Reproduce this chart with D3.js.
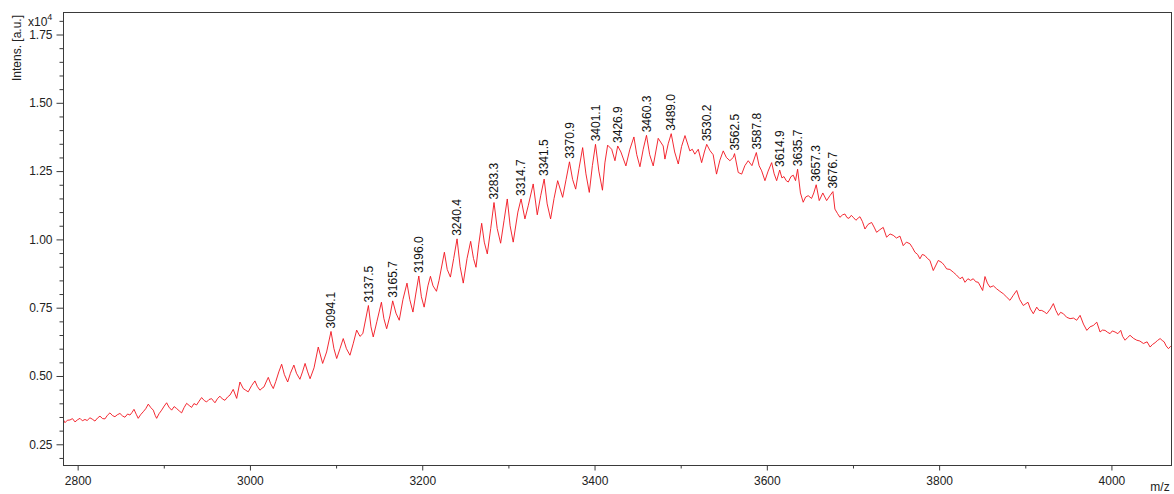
<!DOCTYPE html>
<html>
<head>
<meta charset="utf-8">
<script src="https://cdn.jsdelivr.net/npm/d3@7"></script>
<style>
  html, body { margin: 0; padding: 0; background: #fff; }
  svg { display: block; }
  text { font-family: "Liberation Sans", Arial, Helvetica, sans-serif; }
</style>
</head>
<body>
<svg id="chart" width="1174" height="494"></svg>
<script>
// m/z axis of the spectrum
const mz = [
  2783, 2785.3, 2788, 2791.1, 2794, 2796.9, 2800, 2802.7, 2805.5, 2808.5, 2811, 2814.3, 2817, 2820.1, 2823, 2825.9,
  2829, 2831.7, 2834.5, 2837.5, 2840.5, 2843.3, 2846, 2849.1, 2852, 2854.9, 2858, 2860.7, 2863, 2865.4, 2868, 2870.3,
  2873, 2876.1, 2879, 2882, 2885, 2887.8, 2890, 2891.7, 2894.5, 2897.5, 2900.5, 2903.3, 2906, 2909.1, 2912, 2914.9,
  2918, 2920.7, 2923.5, 2926.5, 2929.5, 2932.3, 2935, 2938.1, 2941, 2943.9, 2947, 2949.7, 2952.5, 2955.5, 2957.5, 2959.4,
  2962.5, 2965.2, 2968, 2971, 2974, 2976.8, 2980.6, 2984.6, 2988.4, 2992.2, 2995, 2998, 3002, 3005.8, 3008.5, 3011.6,
  3014, 3016.3, 3018.8, 3021.3, 3024, 3027.1, 3030, 3033.5, 3036.8, 3040, 3043.8, 3047, 3051, 3054, 3058, 3061,
  3064, 3067, 3069.8, 3074.4, 3079.3, 3084.4, 3089, 3094.1, 3097.5, 3100.7, 3104.5, 3108.3, 3112, 3116.1, 3120, 3123.9,
  3127.7, 3131, 3137.5, 3140.5, 3143.1, 3147.4, 3152.6, 3155.5, 3158.7, 3162.5, 3165.7, 3169.5, 3173.3, 3177.6, 3182.3, 3185.5,
  3189.2, 3192.5, 3196.0, 3199, 3202.2, 3206.6, 3209.5, 3212.5, 3216.5, 3219.5, 3225.7, 3229, 3232.7, 3236.5, 3240.4, 3244,
  3247.6, 3252, 3256.2, 3259.5, 3262.4, 3265.5, 3269, 3272, 3275.5, 3279.5, 3283.3, 3287, 3291, 3295, 3298.7, 3302,
  3305.6, 3311, 3314.7, 3319.2, 3323, 3328.8, 3333.5, 3337.5, 3341.5, 3345, 3349, 3353, 3357.2, 3363, 3367, 3370.9,
  3374.5, 3378.1, 3382, 3386.2, 3390, 3393.9, 3397.5, 3401.1, 3405, 3409.2, 3412, 3415.2, 3419.9, 3423.7, 3426.9, 3430.6,
  3436.4, 3441, 3445.7, 3449, 3452.7, 3456.5, 3460.3, 3464, 3468.1, 3473.9, 3479.7, 3481.7, 3485.5, 3489.0, 3493, 3497.2,
  3501, 3505, 3510.6, 3513.5, 3516.4, 3520.4, 3524.3, 3527.5, 3530.2, 3534, 3537.7, 3541.6, 3545.5, 3549.4, 3553, 3557.1,
  3561, 3562.5, 3566.8, 3570.8, 3574.5, 3578.4, 3582.7, 3587.8, 3591, 3594, 3597.8, 3601.5, 3605.6, 3608.5, 3611.4, 3614.9,
  3617.5, 3619.9, 3622.5, 3624.9, 3628, 3630.7, 3633.3, 3635.7, 3639, 3642.2, 3645, 3648, 3651.9, 3654.5, 3657.3, 3660.8,
  3665, 3669.4, 3673.2, 3676.7, 3679, 3682, 3684.8, 3688, 3690.6, 3693, 3695.3, 3698, 3700.3, 3703.4, 3706, 3708.1,
  3711, 3713.9, 3717.5, 3721.6, 3724.5, 3727.4, 3731, 3735.1, 3739, 3743, 3746.7, 3750.5, 3754.5, 3758.3, 3762, 3766.1,
  3769, 3771.9, 3775, 3777.7, 3780.5, 3783.5, 3786.5, 3789.3, 3793.2, 3799, 3803.3, 3806, 3808.7, 3812.5, 3816.4, 3820,
  3824.2, 3827, 3830, 3833.4, 3836.5, 3839.6, 3842.5, 3845.4, 3850.5, 3853.2, 3856, 3859, 3863, 3866.8, 3870.5, 3874.5,
  3878, 3882.2, 3886, 3890, 3893.5, 3897.7, 3903.1, 3906, 3909.3, 3913.3, 3916, 3919.1, 3922, 3924.9, 3929, 3932.6,
  3935.5, 3938.4, 3941, 3944.2, 3948, 3952, 3956, 3959.7, 3963.6, 3967.5, 3971.4, 3975.2, 3979, 3983, 3986.8, 3989.5,
  3992.6, 3995.5, 3998.4, 4001, 4004.2, 4007.5, 4010.8, 4013, 4015.8, 4018.5, 4021.6, 4025.5, 4029.4, 4033, 4037.1, 4041.4,
  4044.9, 4047.5, 4050.7, 4053.5, 4056.5, 4059, 4061.2, 4063.5, 4066.2, 4068.5, 4070.5
];

// intensity in units of 10^4 a.u.
const intensity = [
  0.342, 0.329, 0.338, 0.339, 0.344, 0.332, 0.340, 0.345, 0.336, 0.341, 0.337, 0.347, 0.342, 0.335, 0.346, 0.353,
  0.344, 0.343, 0.356, 0.365, 0.355, 0.351, 0.358, 0.363, 0.354, 0.349, 0.361, 0.357, 0.366, 0.378, 0.360, 0.345,
  0.358, 0.369, 0.380, 0.397, 0.384, 0.375, 0.356, 0.345, 0.362, 0.375, 0.390, 0.402, 0.386, 0.375, 0.388, 0.381,
  0.372, 0.365, 0.384, 0.400, 0.392, 0.385, 0.399, 0.394, 0.408, 0.421, 0.410, 0.405, 0.414, 0.417, 0.409, 0.402,
  0.418, 0.426, 0.416, 0.411, 0.423, 0.430, 0.451, 0.418, 0.478, 0.454, 0.448, 0.442, 0.465, 0.482, 0.462, 0.448,
  0.455, 0.460, 0.478, 0.495, 0.472, 0.454, 0.480, 0.515, 0.543, 0.505, 0.478, 0.510, 0.540, 0.510, 0.488, 0.515,
  0.546, 0.515, 0.490, 0.530, 0.606, 0.546, 0.588, 0.663, 0.600, 0.564, 0.600, 0.637, 0.600, 0.576, 0.620, 0.668,
  0.645, 0.655, 0.758, 0.680, 0.643, 0.700, 0.770, 0.710, 0.673, 0.720, 0.775, 0.730, 0.704, 0.780, 0.840, 0.780,
  0.734, 0.800, 0.866, 0.790, 0.752, 0.830, 0.865, 0.830, 0.810, 0.850, 0.953, 0.890, 0.862, 0.930, 1.002, 0.900,
  0.840, 0.930, 0.993, 0.930, 0.898, 0.980, 1.059, 0.990, 0.947, 1.040, 1.135, 1.040, 0.986, 1.070, 1.148, 1.050,
  0.990, 1.100, 1.148, 1.075, 1.123, 1.203, 1.090, 1.160, 1.221, 1.130, 1.075, 1.150, 1.215, 1.154, 1.220, 1.284,
  1.220, 1.184, 1.260, 1.336, 1.240, 1.172, 1.270, 1.348, 1.250, 1.180, 1.280, 1.345, 1.330, 1.288, 1.342, 1.320,
  1.269, 1.330, 1.375, 1.310, 1.266, 1.330, 1.381, 1.310, 1.269, 1.370, 1.342, 1.294, 1.350, 1.387, 1.320, 1.276,
  1.340, 1.380, 1.324, 1.330, 1.312, 1.330, 1.281, 1.320, 1.348, 1.325, 1.310, 1.239, 1.290, 1.324, 1.300, 1.288,
  1.300, 1.314, 1.245, 1.239, 1.270, 1.288, 1.270, 1.318, 1.270, 1.251, 1.215, 1.250, 1.281, 1.240, 1.215, 1.254,
  1.225, 1.230, 1.215, 1.210, 1.230, 1.235, 1.215, 1.257, 1.170, 1.136, 1.155, 1.160, 1.150, 1.170, 1.200, 1.142,
  1.170, 1.142, 1.160, 1.175, 1.111, 1.095, 1.081, 1.090, 1.093, 1.080, 1.077, 1.088, 1.081, 1.070, 1.078, 1.083,
  1.065, 1.038, 1.055, 1.062, 1.045, 1.026, 1.035, 1.044, 1.008, 1.020, 1.015, 1.005, 1.012, 0.977, 0.990, 0.984,
  0.970, 0.953, 0.945, 0.929, 0.945, 0.941, 0.930, 0.923, 0.886, 0.923, 0.915, 0.905, 0.892, 0.890, 0.880, 0.870,
  0.856, 0.862, 0.843, 0.856, 0.850, 0.856, 0.845, 0.843, 0.813, 0.864, 0.840, 0.825, 0.830, 0.819, 0.810, 0.801,
  0.790, 0.777, 0.795, 0.813, 0.780, 0.758, 0.770, 0.745, 0.728, 0.752, 0.740, 0.740, 0.735, 0.728, 0.745, 0.765,
  0.740, 0.722, 0.733, 0.728, 0.715, 0.710, 0.712, 0.704, 0.722, 0.690, 0.667, 0.680, 0.685, 0.697, 0.661, 0.668,
  0.667, 0.660, 0.655, 0.665, 0.661, 0.655, 0.667, 0.645, 0.631, 0.640, 0.649, 0.638, 0.631, 0.628, 0.619, 0.625,
  0.606, 0.615, 0.622, 0.630, 0.637, 0.630, 0.625, 0.610, 0.600, 0.608, 0.612
];

// annotated peak positions (m/z)
const peakLabels = [
  3094.1, 3137.5, 3165.7, 3196.0, 3240.4, 3283.3, 3314.7, 3341.5, 3370.9, 3401.1,
  3426.9, 3460.3, 3489.0, 3530.2, 3562.5, 3587.8, 3614.9, 3635.7, 3657.3, 3676.7
];

// axis ticks
const xTicks = [2800, 3000, 3200, 3400, 3600, 3800, 4000];
const xMinorTicks = [2900, 3100, 3300, 3500, 3700, 3900];
const yTicks = [0.25, 0.50, 0.75, 1.00, 1.25, 1.50, 1.75];

const spectrum = mz.map((m, i) => ({ m, v: intensity[i] }));

const plot = { left: 63, top: 12, right: 1172, bottom: 465 };
const svg = d3.select("#chart");

const x = d3.scaleLinear().domain([2783, 4070.3]).range([plot.left, plot.right]);
const y = d3.scaleLinear().domain([0.1742, 1.8324]).range([plot.bottom, plot.top]);

const axisColor = "#3a3a3a";
const textColor = "#222";

// clip region for the trace
svg.append("defs").append("clipPath").attr("id", "plot-clip")
  .append("rect")
  .attr("x", plot.left).attr("y", plot.top)
  .attr("width", plot.right - plot.left).attr("height", plot.bottom - plot.top);

// spectrum trace
const line = d3.line().x(d => x(d.m)).y(d => y(d.v));
svg.append("path")
  .datum(spectrum)
  .attr("clip-path", "url(#plot-clip)")
  .attr("fill", "none")
  .attr("stroke", "#f2121c")
  .attr("stroke-width", 0.9)
  .attr("stroke-linejoin", "round")
  .attr("d", line);

// frame
svg.append("rect")
  .attr("x", plot.left + 0.5).attr("y", plot.top + 0.5)
  .attr("width", plot.right - plot.left - 1).attr("height", plot.bottom - plot.top)
  .attr("fill", "none").attr("stroke", axisColor).attr("stroke-width", 1);

// bottom axis
const gx = svg.append("g").attr("transform", `translate(0,${plot.bottom + 0.5})`);
gx.call(d3.axisBottom(x).tickValues(xTicks).tickSize(5).tickPadding(6).tickFormat(d3.format("d")));
const gxMinor = svg.append("g").attr("transform", `translate(0,${plot.bottom + 0.5})`);
gxMinor.call(d3.axisBottom(x).tickValues(xMinorTicks).tickSize(3).tickFormat(""));

// left axis
const yMinor = d3.range(0.20, 1.8001, 0.05).map(v => +v.toFixed(2)).filter(v => !yTicks.includes(v));
const gy = svg.append("g").attr("transform", `translate(${plot.left + 0.5},0)`);
gy.call(d3.axisLeft(y).tickValues(yTicks).tickSize(7).tickPadding(4).tickFormat(d3.format(".2f")));
const gyMinor = svg.append("g").attr("transform", `translate(${plot.left + 0.5},0)`);
gyMinor.call(d3.axisLeft(y).tickValues(yMinor).tickSize(4).tickFormat(""));

[gx, gxMinor, gy, gyMinor].forEach(g => {
  g.select(".domain").remove();
  g.selectAll("line").attr("stroke", axisColor);
  g.selectAll("text").attr("fill", textColor).style("font-size", "12px")
    .style("font-family", '"Liberation Sans", Arial, sans-serif');
});

// axis titles
svg.append("text")
  .attr("transform", "translate(21,48) rotate(-90)")
  .attr("text-anchor", "middle")
  .attr("fill", textColor)
  .style("font-size", "12px")
  .text("Intens. [a.u.]");

const expo = svg.append("text").attr("x", 28).attr("y", 26).attr("fill", textColor).style("font-size", "12px");
expo.append("tspan").text("x10");
expo.append("tspan").attr("dy", -6).style("font-size", "9px").text("4");

svg.append("text")
  .attr("x", 1160).attr("y", 491)
  .attr("text-anchor", "middle")
  .attr("fill", textColor)
  .style("font-size", "12px")
  .text("m/z");

// peak annotations, placed above the trace point at each labelled m/z
const labelG = svg.append("g");
peakLabels.forEach(p => {
  const pt = spectrum.reduce((a, b) => Math.abs(b.m - p) < Math.abs(a.m - p) ? b : a);
  const px = x(pt.m), py = y(pt.v) - 3;
  labelG.append("text")
    .attr("transform", `translate(${px},${py}) rotate(-90)`)
    .attr("dy", "0.35em")
    .attr("text-anchor", "start")
    .attr("fill", "#111")
    .style("font-size", "12px")
    .text(p.toFixed(1));
});
</script>
</body>
</html>
